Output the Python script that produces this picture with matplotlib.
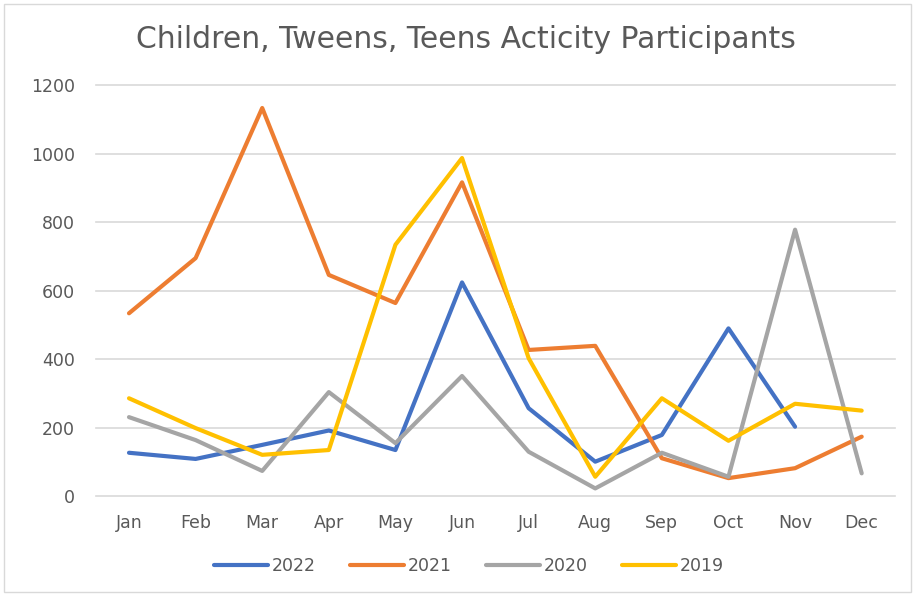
import numpy as np
import matplotlib.pyplot as plt
from matplotlib.patches import Rectangle

plt.rcParams['font.family'] = ['DejaVu Sans']

months = ['Jan', 'Feb', 'Mar', 'Apr', 'May', 'Jun', 'Jul', 'Aug', 'Sep', 'Oct', 'Nov', 'Dec']
y2022 = [127, 109, 150, 192, 135, 624, 257, 101, 179, 490, 203, np.nan]
y2021 = [534, 695, 1133, 646, 564, 916, 427, 439, 111, 53, 82, 174]
y2020 = [231, 164, 74, 304, 155, 351, 130, 23, 127, 57, 778, 67]
y2019 = [286, 199, 121, 135, 734, 987, 403, 57, 286, 162, 270, 250]

series = [('2022', y2022, '#4472C4'),
          ('2021', y2021, '#ED7D31'),
          ('2020', y2020, '#A5A5A5'),
          ('2019', y2019, '#FFC000')]

fig = plt.figure(figsize=(9.14, 5.96), dpi=100)
ax = fig.add_axes([0.1047, 0.1673, 0.8745, 0.690])

x = np.arange(len(months))
for name, vals, col in series:
    ax.plot(x, vals, color=col, lw=3.0, label=name, solid_capstyle='round', solid_joinstyle='round')

ax.set_xlim(-0.5, 11.5)
ax.set_ylim(0, 1200)
ax.set_yticks(range(0, 1201, 200))
ax.set_xticks(x)
ax.set_xticklabels(months)
ax.grid(axis='y', color='#D9D9D9', lw=1.2)
for gl in ax.get_ygridlines():
    gl.set_clip_on(False)
ax.set_axisbelow(True)
for s in ax.spines.values():
    s.set_visible(False)
ax.tick_params(length=0, labelsize=12.5, colors='#595959', pad=13)
ax.tick_params(axis='y', pad=15)

fig.text(0.510, 0.933, 'Children, Tweens, Teens Acticity Participants', ha='center', va='center',
         fontsize=21.5, color='#595959')

fig.legend(loc='center', bbox_to_anchor=(0.513, 0.050), ncol=4, frameon=False,
           fontsize=12.5, handlelength=3.1, handletextpad=0.2, columnspacing=2.0,
           labelcolor='#595959')

fig.patches.append(Rectangle((0.004, 0.006), 0.993, 0.988, transform=fig.transFigure,
                             fill=False, edgecolor='#D9D9D9', lw=1))

fig.savefig('out.png', dpi=100)
